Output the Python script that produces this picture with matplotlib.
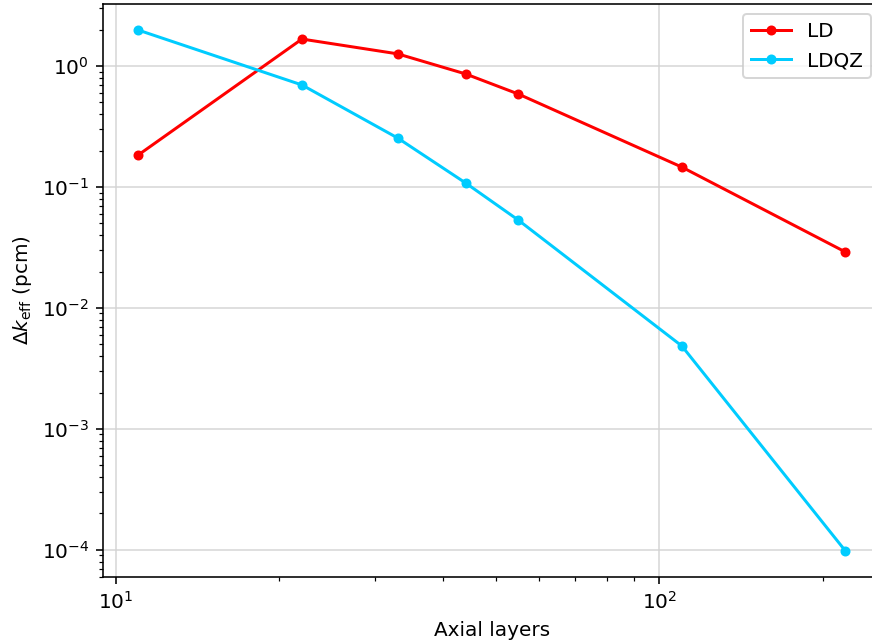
import matplotlib
matplotlib.use('Agg')
import matplotlib.pyplot as plt

# Axial layer counts
layers = [11, 22, 33, 44, 55, 110, 220]

# Delta k_eff (pcm) for each method
ld = [0.184, 1.67, 1.26, 0.86, 0.587, 0.146, 0.029]
ldqz = [1.98, 0.697, 0.254, 0.108, 0.0533, 0.00485, 0.000098]

fig = plt.figure(figsize=(872 / 144, 644 / 144), dpi=144)
ax = fig.add_axes([0.1181, 0.104, 0.892, 0.8897])

ax.plot(layers, ld, marker='o', markersize=4, color='red', label='LD')
ax.plot(layers, ldqz, marker='o', markersize=4, color='#00ccff', label='LDQZ')

ax.set_xscale('log')
ax.set_yscale('log')
ax.grid(True, which='major', color='lightgrey', alpha=0.9)
ax.set_xlabel('Axial layers')
ax.set_ylabel(r'$\Delta k_{\mathrm{eff}}$ (pcm)')
ax.legend(loc='upper right')

fig.savefig('out.png', dpi=144)
